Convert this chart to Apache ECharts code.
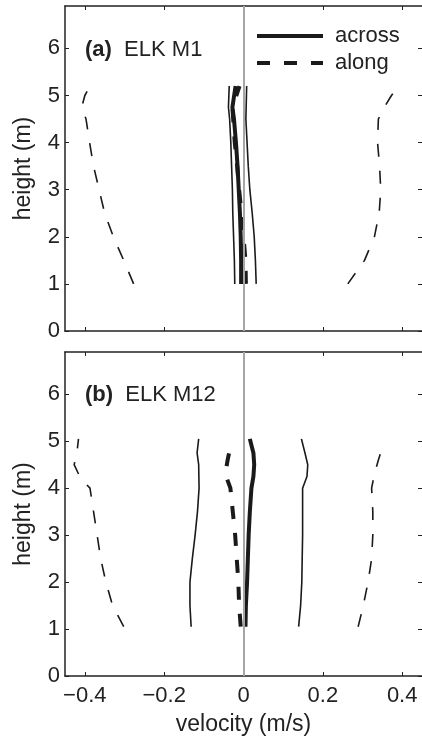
<!DOCTYPE html>
<html>
<head>
<meta charset="utf-8">
<script src="https://cdn.jsdelivr.net/npm/echarts@6/dist/echarts.min.js"></script>
<style>
html,body{margin:0;padding:0;background:#fff;}
#chart{width:422px;height:738px;}
</style>
</head>
<body>
<div id="chart"></div>
<script>
// ---- Tick labels ----
const xTicks = [-0.4, -0.2, 0, 0.2, 0.4];
const yTicks = [0, 1, 2, 3, 4, 5, 6];
const panelLabels = ['(a)', '(b)'];
const panelNames = ['ELK M1', 'ELK M12'];
const legendNames = ['across', 'along'];

// ---- Panel (a) ELK M1 ----
const aAlongLeftH  = [1.0, 1.5, 2.0, 2.5, 3.0, 3.5, 4.0, 4.5, 4.75, 5.0, 5.2];
const aAlongLeftV  = [-0.277, -0.302, -0.328, -0.350, -0.364, -0.378, -0.388, -0.397, -0.408, -0.400, -0.387];
const aAlongRightH = [1.0, 1.5, 2.0, 2.5, 3.0, 3.5, 4.0, 4.5, 4.75, 5.0, 5.2];
const aAlongRightV = [0.263, 0.305, 0.330, 0.342, 0.346, 0.343, 0.338, 0.340, 0.355, 0.373, 0.390];
const aAcrossLeftH = [1.0, 1.5, 2.0, 2.5, 3.0, 3.5, 4.0, 4.5, 4.75, 5.2];
const aAcrossLeftV = [-0.022, -0.023, -0.025, -0.027, -0.028, -0.030, -0.032, -0.035, -0.038, -0.036];
const aAcrossRightH = [1.0, 1.5, 2.0, 2.5, 3.0, 3.5, 4.0, 4.5, 5.2];
const aAcrossRightV = [0.032, 0.030, 0.027, 0.022, 0.016, 0.012, 0.009, 0.006, 0.008];
const aAcrossMeanH = [1.0, 1.5, 2.0, 2.5, 3.0, 3.5, 4.0, 4.5, 4.75, 5.2];
const aAcrossMeanV = [-0.006, -0.006, -0.007, -0.009, -0.012, -0.015, -0.019, -0.024, -0.028, -0.020];
const aAlongMeanH  = [1.0, 1.5, 2.0, 2.5, 3.0, 3.5, 4.0, 4.5, 4.75, 5.2];
const aAlongMeanV  = [0.006, 0.005, 0.000, -0.005, -0.011, -0.016, -0.022, -0.026, -0.028, -0.010];

// ---- Panel (b) ELK M12 ----
const bAlongLeftH  = [1.05, 1.5, 2.0, 2.5, 3.0, 3.5, 4.0, 4.2, 4.5, 4.75, 5.05];
const bAlongLeftV  = [-0.302, -0.330, -0.347, -0.360, -0.369, -0.378, -0.387, -0.410, -0.427, -0.420, -0.416];
const bAcrossLeftH = [1.05, 1.5, 2.0, 2.5, 3.0, 3.5, 4.0, 4.5, 4.75, 5.05];
const bAcrossLeftV = [-0.132, -0.135, -0.135, -0.129, -0.122, -0.116, -0.112, -0.113, -0.117, -0.113];
const bAlongMeanH  = [1.05, 1.5, 2.0, 2.5, 3.0, 3.5, 4.0, 4.3, 4.6, 4.93];
const bAlongMeanV  = [-0.007, -0.011, -0.013, -0.017, -0.021, -0.027, -0.033, -0.046, -0.040, -0.032];
const bAcrossMeanH = [1.05, 1.5, 2.0, 2.5, 3.0, 3.5, 4.0, 4.25, 4.5, 4.75, 5.05];
const bAcrossMeanV = [0.005, 0.006, 0.009, 0.011, 0.013, 0.016, 0.020, 0.025, 0.027, 0.025, 0.016];
const bAcrossRightH = [1.05, 1.5, 2.0, 2.5, 3.0, 3.5, 4.0, 4.25, 4.5, 4.75, 5.05];
const bAcrossRightV = [0.139, 0.144, 0.147, 0.148, 0.149, 0.149, 0.149, 0.160, 0.162, 0.155, 0.146];
const bAlongRightH = [1.05, 1.5, 2.0, 2.5, 3.0, 3.5, 4.0, 4.3, 4.6, 4.86];
const bAlongRightV = [0.289, 0.302, 0.314, 0.323, 0.326, 0.326, 0.323, 0.330, 0.340, 0.350];

const zip = (v, h) => v.map((x, i) => [x, h[i]]);
const FONT = 'Liberation Sans, Arial, Helvetica, sans-serif';
const FS = 22;
const FSN = 23;
const minusFmt = v => (v < 0 ? '\u2212' + Math.abs(v) : String(v));

const chart = echarts.init(document.getElementById('chart'), null, {renderer: 'canvas'});

function xAx(grid, pos, labels) {
  return {
    type: 'value', gridIndex: grid, position: pos, min: -0.45, max: 0.45,
    name: labels ? 'velocity (m/s)' : '', nameLocation: 'middle', nameGap: 37,
    nameTextStyle: {fontFamily: FONT, fontSize: FSN, color: '#222'},
    axisLine: {show: true, onZero: false, lineStyle: {color: '#222', width: 1.5}},
    axisTick: {show: true, inside: true, length: 4, customValues: xTicks, lineStyle: {color: '#222', width: 1}},
    axisLabel: {show: labels, customValues: xTicks, formatter: minusFmt, margin: 9,
      fontFamily: FONT, fontSize: FS, color: '#222'},
    splitLine: {show: false}
  };
}
function yAx(grid, pos, labels) {
  return {
    type: 'value', gridIndex: grid, position: pos, min: 0, max: 6.9,
    name: labels ? 'height (m)' : '', nameLocation: 'middle', nameGap: 30,
    nameTextStyle: {fontFamily: FONT, fontSize: FSN, color: '#222'},
    axisLine: {show: labels, onZero: false, lineStyle: {color: '#222', width: 1.5}},
    axisTick: {show: true, inside: true, length: 4, customValues: yTicks, lineStyle: {color: '#222', width: 1}},
    axisLabel: {show: labels, customValues: yTicks, margin: 5,
      fontFamily: FONT, fontSize: FS, color: '#222'},
    splitLine: {show: false}
  };
}

function thin(name, data, grid, dashed) {
  return {
    type: 'line', name: name, xAxisIndex: grid * 2, yAxisIndex: grid * 2, data: data,
    symbol: 'none', smooth: false, silent: true, z: 2,
    lineStyle: {color: '#1a1a1a', width: 1.6, type: dashed ? [13, 14] : 'solid'}
  };
}
function thick(name, data, grid, dashed, withMark) {
  const s = {
    type: 'line', name: name, xAxisIndex: grid * 2, yAxisIndex: grid * 2, data: data,
    symbol: 'none', smooth: false, silent: true, z: 3,
    lineStyle: {color: '#1a1a1a', width: 4, type: dashed ? [13, 14] : 'solid'}
  };
  if (withMark) {
    s.markLine = {
      silent: true, symbol: ['none', 'none'], label: {show: false},
      lineStyle: {color: '#a6a6a6', width: 2, type: 'solid'},
      data: [{xAxis: 0}], z: 5
    };
  }
  return s;
}

const option = {
  backgroundColor: '#fff',
  animation: false,
  textStyle: {fontFamily: FONT},
  grid: [
    {left: 65, right: -2, top: 6, bottom: 407},
    {left: 65, right: -2, top: 352, bottom: 62}
  ],
  xAxis: [xAx(0, 'bottom', false), xAx(0, 'top', false), xAx(1, 'bottom', true), xAx(1, 'top', false)],
  yAxis: [yAx(0, 'left', true), yAx(0, 'right', false), yAx(1, 'left', true), yAx(1, 'right', false)],
  title: [0, 1].map(i => ({
    text: '{b|' + panelLabels[i] + '}  ' + panelNames[i],
    left: 85, top: i === 0 ? 39 : 384, padding: 0,
    textStyle: {fontFamily: FONT, fontSize: FS, fontWeight: 'normal', color: '#222',
      rich: {b: {fontFamily: FONT, fontSize: FS, fontWeight: 'bold', color: '#222'}}}
  })),
  legend: {
    data: legendNames, orient: 'vertical', left: 255, top: 25, padding: 0,
    itemWidth: 66, itemHeight: 14, itemGap: 5, selectedMode: false,
    lineStyle: {width: 4},
    itemStyle: {opacity: 0},
    textStyle: {fontFamily: FONT, fontSize: FS, color: '#222', padding: [0, 0, 0, 7]}
  },
  series: [
    thin('a-along-left', zip(aAlongLeftV, aAlongLeftH), 0, true),
    thin('a-along-right', zip(aAlongRightV, aAlongRightH), 0, true),
    thin('a-across-left', zip(aAcrossLeftV, aAcrossLeftH), 0, false),
    thin('a-across-right', zip(aAcrossRightV, aAcrossRightH), 0, false),
    thick('across', zip(aAcrossMeanV, aAcrossMeanH), 0, false, false),
    thick('along', zip(aAlongMeanV, aAlongMeanH), 0, true, true),
    thin('b-along-left', zip(bAlongLeftV, bAlongLeftH), 1, true),
    thin('b-along-right', zip(bAlongRightV, bAlongRightH), 1, true),
    thin('b-across-left', zip(bAcrossLeftV, bAcrossLeftH), 1, false),
    thin('b-across-right', zip(bAcrossRightV, bAcrossRightH), 1, false),
    thick('across', zip(bAcrossMeanV, bAcrossMeanH), 1, false, false),
    thick('along', zip(bAlongMeanV, bAlongMeanH), 1, true, true)
  ]
};
chart.setOption(option);
</script>
</body>
</html>
